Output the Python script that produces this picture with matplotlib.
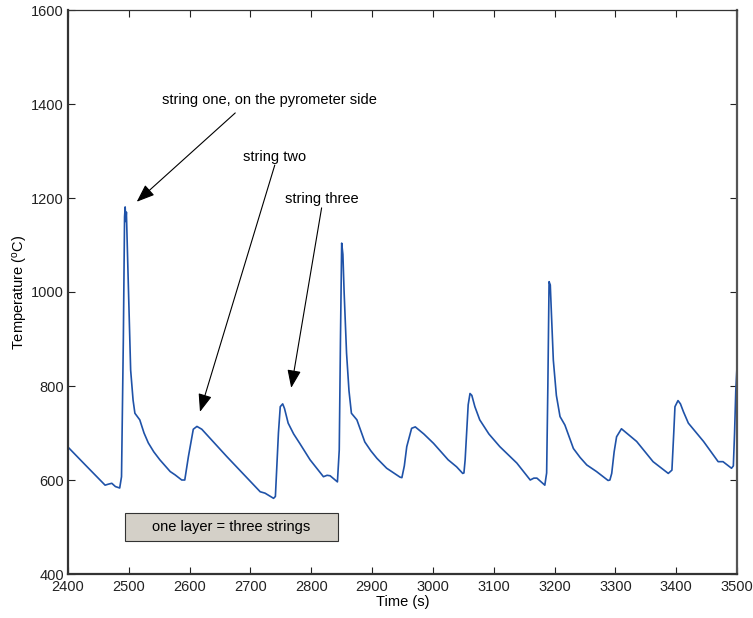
import matplotlib
matplotlib.use("Agg")
import matplotlib.pyplot as plt
from matplotlib.patches import Rectangle

plt.rcParams['font.family'] = ['Liberation Sans', 'DejaVu Sans']
plt.rcParams['mathtext.fontset'] = 'custom'
plt.rcParams['mathtext.rm'] = 'Liberation Sans'
plt.rcParams['mathtext.it'] = 'Liberation Sans:italic'

time_s = [2400, 2430, 2461, 2466, 2472, 2478, 2485, 2488, 2491, 2493, 2494, 2495, 2496,
          2499, 2503, 2507, 2510, 2518, 2525, 2532, 2541, 2551, 2568, 2576, 2587, 2592, 2598,
          2606, 2612, 2620, 2661, 2716, 2724, 2738, 2741, 2746, 2749, 2753, 2756, 2762,
          2771, 2781, 2798, 2820, 2826, 2831, 2843, 2846, 2848, 2850, 2852, 2854, 2858, 2862,
          2866, 2875, 2888, 2898, 2908, 2924, 2946, 2949, 2953, 2957, 2965, 2971, 2985, 3001,
          3025, 3039, 3049, 3051, 3053, 3058, 3061, 3064, 3069, 3077, 3092, 3110, 3138, 3160,
          3166, 3171, 3184, 3187, 3189, 3191, 3193, 3195, 3198, 3203, 3209, 3217, 3231,
          3242, 3253, 3269, 3288, 3291, 3294, 3298, 3302, 3310, 3335, 3362, 3387, 3393, 3396,
          3398, 3403, 3407, 3412, 3420, 3445, 3469, 3477, 3491, 3494, 3496, 3498, 3500]
temperature_c = [670, 630, 589, 591, 593, 586, 583, 607, 900, 1160, 1181, 1150, 1170,
                 1025, 834, 770, 742, 728, 700, 679, 660, 643, 618, 611, 600, 600, 650,
                 708, 714, 708, 650, 575, 572, 561, 565, 700, 756, 762, 752, 721,
                 698, 678, 643, 607, 610, 609, 596, 664, 900, 1104, 1080, 1000, 870, 790,
                 742, 728, 681, 662, 646, 625, 606, 605, 630, 671, 710, 713, 698, 678,
                 643, 628, 614, 615, 643, 760, 784, 780, 756, 728, 698, 671, 636, 600,
                 604, 604, 589, 615, 800, 1022, 1015, 950, 855, 780, 735, 717, 667,
                 648, 632, 618, 599, 600, 614, 660, 692, 709, 682, 639, 614, 621, 700,
                 756, 769, 762, 745, 721, 682, 639, 639, 625, 630, 700, 790, 841]

x_ticks = [2400, 2500, 2600, 2700, 2800, 2900, 3000, 3100, 3200, 3300, 3400, 3500]
y_ticks = [400, 600, 800, 1000, 1200, 1400, 1600]

annotations = [
    ("string one, on the pyrometer side", (2554, 1408), (2675, 1381), (2513, 1192)),
    ("string two", (2740, 1287), (2740, 1270), (2617, 745)),
    ("string three", (2818, 1198), (2817, 1179), (2767, 796)),
]
box_text = "one layer = three strings"
box_x = (2494, 2844)
box_y = (470, 530)

fig = plt.figure(figsize=(7.53, 6.18), dpi=100)
ax = fig.add_axes([68/753, 1-574/618, (737-68)/753, (574-10)/618])

ax.plot(time_s, temperature_c, color='#1f52a8', lw=1.2)

ax.set_xlim(2400, 3500)
ax.set_ylim(400, 1600)
ax.set_xticks(x_ticks)
ax.set_yticks(y_ticks)
ax.tick_params(direction='in', length=5, width=0.8, top=True, right=True,
               labelsize=10.5, colors='#222222', pad=3)
ax.tick_params(axis='x', pad=4)
for s in ['left', 'bottom']:
    ax.spines[s].set_linewidth(1.6)
    ax.spines[s].set_color('#333333')
ax.spines['right'].set_linewidth(1.6)
ax.spines['right'].set_color('#555555')
ax.spines['top'].set_linewidth(0.9)
ax.spines['top'].set_color('#333333')

ax.set_xlabel('Time (s)', fontsize=10.5, labelpad=1)
ax.set_ylabel('Temperature ($^{\\mathrm{o}}$C)', fontsize=10.5, labelpad=1)

for label, txt_xy, tail, tip in annotations:
    ha = 'left' if label.startswith("string one") else 'center'
    ax.text(txt_xy[0], txt_xy[1], label, ha=ha, va='center', fontsize=10.5)
    ax.annotate('', xy=tip, xytext=tail,
                arrowprops=dict(arrowstyle='-|>,head_length=1.1,head_width=0.42',
                                color='black', lw=0.8, shrinkA=0, shrinkB=0))

ax.add_patch(Rectangle((box_x[0], box_y[0]), box_x[1] - box_x[0], box_y[1] - box_y[0],
                       facecolor='#d4d0c8', edgecolor='#333333', lw=0.8, zorder=3))
ax.text(sum(box_x) / 2, sum(box_y) / 2, box_text, ha='center', va='center',
        fontsize=10.5, zorder=4)

fig.savefig('out.png', dpi=100)
